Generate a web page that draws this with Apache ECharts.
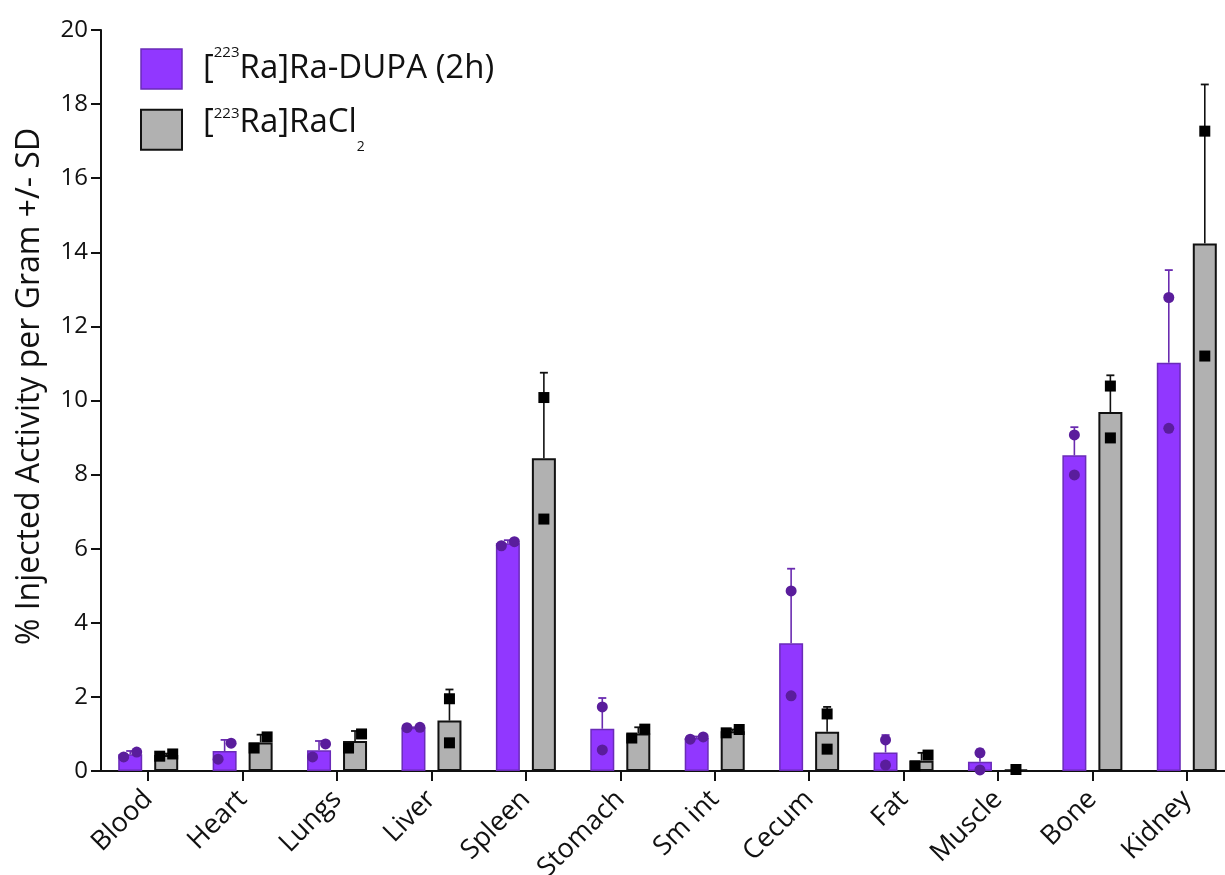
<!DOCTYPE html>
<html>
<head>
<meta charset="utf-8">
<title>Biodistribution</title>
<script src="https://cdn.jsdelivr.net/npm/echarts@6/dist/echarts.min.js"></script>
<style>
  html, body { margin: 0; padding: 0; background: #ffffff; }
  #chart { width: 1225px; height: 875px; }
</style>
</head>
<body>
<div id="chart"></div>
<script>
// Organ list (x categories)
const categories = ['Blood', 'Heart', 'Lungs', 'Liver', 'Spleen', 'Stomach', 'Sm int', 'Cecum', 'Fat', 'Muscle', 'Bone', 'Kidney'];

// [223Ra]Ra-DUPA (2h): group mean, SD, and the two individual animals
const dupaMean = [0.45, 0.54, 0.56, 1.17, 6.15, 1.14, 0.89, 3.45, 0.50, 0.25, 8.52, 11.02];
const dupaSD   = [0.09, 0.30, 0.25, 0.01, 0.08, 0.83, 0.04, 2.01, 0.47, 0.33, 0.76, 2.50];
const dupaRep1 = [0.38, 0.32, 0.38, 1.17, 6.08, 1.73, 0.86, 4.86, 0.84, 0.49, 7.99, 12.78];
const dupaRep2 = [0.51, 0.75, 0.73, 1.18, 6.19, 0.57, 0.92, 2.03, 0.16, 0.03, 9.07, 9.25];

// [223Ra]RaCl2: group mean, SD, and the individual animals (muscle has a single value)
const raMean = [0.43, 0.77, 0.81, 1.36, 8.44, 1.01, 1.07, 1.06, 0.28, 0.04, 9.69, 14.24];
const raSD   = [0.04, 0.21, 0.27, 0.84, 2.31, 0.17, 0.05, 0.67, 0.21, null, 0.99, 4.29];
const raRep1 = [0.40, 0.62, 0.62, 0.76, 6.80, 0.89, 1.03, 0.59, 0.14, 0.04, 8.99, 11.20];
const raRep2 = [0.46, 0.92, 1.00, 1.95, 10.08, 1.13, 1.12, 1.54, 0.43, null, 10.39, 17.27];

// Y axis ticks
const yMin = 0, yMax = 20, yStep = 2;

// Series labels
const nameDupa = '[223Ra]Ra-DUPA (2h)';
const nameRa = '[223Ra]RaCl2';

// ---- styling ----
const FONT = 'Open Sans';
const INK = '#111111';
const PURPLE = '#9137ff';
const PURPLE_EDGE = '#6a2bb8';
const PURPLE_DOT = '#5a1d9c';
const GREY = '#b1b1b1';
const BAR_W = 24, BAR_GAP = 12;
const GROUP_OFF = (BAR_W + BAR_GAP) / 2;
const JITTER = 6.5;          // side-by-side spread for overlapping points
const OVERLAP = 0.45;        // values closer than this are spread apart

function pointData(r1, r2, groupOffset) {
  const out = [];
  for (let i = 0; i < r1.length; i++) {
    const vals = [r1[i], r2[i]].filter(v => v !== null && v !== undefined);
    if (vals.length === 1) {
      out.push({ value: [i, vals[0]], symbolOffset: [groupOffset, 0] });
      continue;
    }
    const a = vals[0], b = vals[1];
    const spread = Math.abs(a - b) < OVERLAP;
    const lo = Math.min(a, b), hi = Math.max(a, b);
    out.push({ value: [i, lo], symbolOffset: [groupOffset - (spread ? JITTER : 0), 0] });
    out.push({ value: [i, hi], symbolOffset: [groupOffset + (spread ? JITTER : 0), 0] });
  }
  return out;
}

function errData(mean, sd) {
  const out = [];
  mean.forEach((m, i) => { if (sd[i] !== null) out.push([i, m, m + sd[i]]); });
  return out;
}

function errRender(offset, color) {
  return function (params, api) {
    const base = api.coord([api.value(0), api.value(1)]);
    const top = api.coord([api.value(0), api.value(2)]);
    const x = base[0] + offset;
    return {
      type: 'group',
      children: [
        { type: 'line', shape: { x1: x, y1: base[1], x2: x, y2: top[1] }, style: { stroke: color, lineWidth: 1.6 } },
        { type: 'line', shape: { x1: x - 4, y1: top[1], x2: x + 4, y2: top[1] }, style: { stroke: color, lineWidth: 1.8 } }
      ]
    };
  };
}

const chart = echarts.init(document.getElementById('chart'), null, { renderer: 'canvas' });

const option = {
  animation: false,
  backgroundColor: '#ffffff',
  grid: { left: 101, top: 30, width: 1133, height: 741, containLabel: false, outerBoundsMode: 'none' },
  legend: {
    orient: 'vertical',
    left: 140,
    top: 45,
    padding: 0,
    itemWidth: 41,
    itemHeight: 40,
    itemGap: 10,
    selectedMode: false,
    icon: 'rect',
    data: [
      { name: nameDupa, itemStyle: { color: PURPLE, borderColor: PURPLE_EDGE, borderWidth: 1.5 } },
      { name: nameRa, itemStyle: { color: GREY, borderColor: INK, borderWidth: 2 } }
    ],
    formatter: function (name) {
      if (name === nameDupa) return '{b|[}{s|223}{b|Ra]Ra-DUPA (2h)}';
      return '{c|[}{s|223}{c|Ra]RaCl}{u|2}';
    },
    textStyle: {
      color: INK,
      fontFamily: FONT,
      fontSize: 33,
      padding: [0, 0, 0, 16],
      rich: {
        b: { fontFamily: FONT, fontSize: 33, color: INK, lineHeight: 48, verticalAlign: 'middle' },
        c: { fontFamily: FONT, fontSize: 33, color: INK, lineHeight: 48, verticalAlign: 'top' },
        s: { fontFamily: FONT, fontSize: 15, color: INK, lineHeight: 14, verticalAlign: 'top' },
        u: { fontFamily: FONT, fontSize: 14, color: INK, lineHeight: 14, verticalAlign: 'bottom', padding: [40, 0, 0, 0] }
      }
    }
  },
  xAxis: {
    type: 'category',
    data: categories,
    axisLine: { show: true, lineStyle: { color: INK, width: 2 } },
    axisTick: { show: true, alignWithLabel: true, length: 10, lineStyle: { color: INK, width: 2 } },
    axisLabel: { rotate: 45, fontFamily: FONT, fontSize: 27, color: INK, margin: 24, interval: 0 },
    splitLine: { show: false }
  },
  yAxis: {
    type: 'value',
    min: yMin,
    max: yMax,
    interval: yStep,
    name: '% Injected Activity per Gram +/- SD',
    nameLocation: 'middle',
    nameRotate: 90,
    nameGap: 55,
    nameTextStyle: { fontFamily: FONT, fontSize: 32, color: INK, padding: [0, 0, 0, 28] },
    axisLine: { show: true, lineStyle: { color: INK, width: 2 } },
    axisTick: { show: true, length: 10, lineStyle: { color: INK, width: 2 } },
    axisLabel: { fontFamily: FONT, fontSize: 24, color: INK, margin: 13 },
    splitLine: { show: false }
  },
  series: [
    {
      name: nameDupa,
      type: 'bar',
      data: dupaMean,
      barWidth: BAR_W,
      barGap: (BAR_GAP / BAR_W * 100) + '%',
      itemStyle: { color: PURPLE, borderColor: PURPLE_EDGE, borderWidth: 1.5 },
      z: 2
    },
    {
      name: nameRa,
      type: 'bar',
      data: raMean,
      barWidth: BAR_W,
      barGap: (BAR_GAP / BAR_W * 100) + '%',
      itemStyle: { color: GREY, borderColor: INK, borderWidth: 2 },
      z: 2
    },
    {
      name: 'dupa-sd',
      type: 'custom',
      data: errData(dupaMean, dupaSD),
      encode: { x: 0, y: [1, 2] },
      renderItem: errRender(-GROUP_OFF, '#6a2bb0'),
      z: 3
    },
    {
      name: 'ra-sd',
      type: 'custom',
      data: errData(raMean, raSD),
      encode: { x: 0, y: [1, 2] },
      renderItem: errRender(GROUP_OFF, INK),
      z: 3
    },
    {
      name: 'dupa-points',
      type: 'scatter',
      data: pointData(dupaRep1, dupaRep2, -GROUP_OFF),
      symbol: 'circle',
      symbolSize: 11,
      itemStyle: { color: PURPLE_DOT, opacity: 1 },
      z: 4
    },
    {
      name: 'ra-points',
      type: 'scatter',
      data: pointData(raRep1, raRep2, GROUP_OFF),
      symbol: 'rect',
      symbolSize: 11,
      itemStyle: { color: '#000000', opacity: 1 },
      z: 4
    }
  ]
};

chart.setOption(option);
</script>
</body>
</html>
